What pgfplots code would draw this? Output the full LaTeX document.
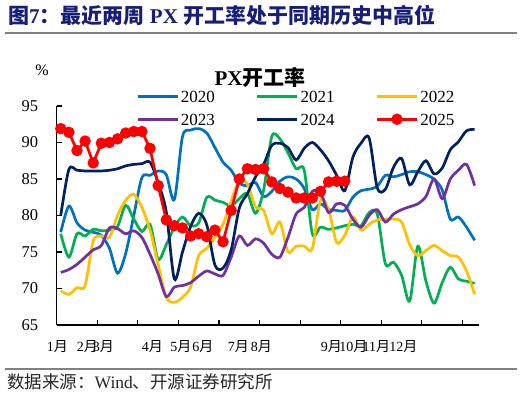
\documentclass[border=0pt]{standalone}
\usepackage{fontspec}
\setmainfont{Liberation Serif}
\newfontfamily\cjk{Noto Sans CJK SC}
\usepackage{pgfplots}
\usepackage{pgfplotstable}
\pgfplotsset{compat=1.18}

\definecolor{c2020}{RGB}{0,112,192}
\definecolor{c2021}{RGB}{0,176,80}
\definecolor{c2022}{RGB}{255,192,0}
\definecolor{c2023}{RGB}{112,48,160}
\definecolor{c2024}{RGB}{0,32,96}
\definecolor{c2025}{RGB}{255,0,0}
\definecolor{hdr}{RGB}{22,30,120}
\definecolor{rule}{RGB}{128,128,128}

\newcommand\yue{{\cjk 月}}

% weekly PX operating rate, %, by year
\pgfplotstableread{
w  y2020 y2021 y2022 y2023 y2024
0  77.7  77.5  69.7  72.2  80.0
1  81.3  74.3  69.2  72.6  86.3
2  79.0  77.5  70.1  73.3  86.2
3  78.0  77.2  70.4  74.3  86.1
4  77.7  78.1  76.5  75.3  86.1
5  77.3  77.9  77.2  75.9  86.1
6  75.5  78.0  77.0  78.3  86.2
7  72.1  78.5  80.0  78.2  86.4
8  74.8  81.4  82.1  77.5  86.8
9  80.0  79.5  82.9  77.9  87.0
10 85.2  77.8  81.1  77.0  87.1
11 85.5  78.8  78.0  74.7  87.3
12 86.1  74.0  73.3  72.0  84.5
13 85.6  76.0  68.8  68.9  80.5
14 82.2  78.4  68.1  70.2  71.3
15 90.8  79.8  68.8  70.4  75.0
16 91.7  78.6  70.2  70.8  78.5
17 91.9  79.0  74.5  71.7  80.3
18 91.3  82.5  75.5  72.4  78.7
19 89.3  82.1  77.0  72.0  73.2
20 87.3  81.8  78.8  71.8  72.8
21 86.2  81.3  82.0  74.3  75.3
22 84.4  82.3  84.8  77.2  81.0
23 84.1  83.0  84.3  75.9  83.0
24 84.5  80.3  81.2  76.8  85.3
25 82.6  83.5  80.7  76.2  87.0
26 83.3  90.8  77.5  74.7  89.6
27 84.7  90.5  79.1  74.3  89.9
28 85.3  88.6  75.0  77.0  89.3
29 85.0  86.4  75.8  80.2  87.6
30 83.7  86.2  75.8  81.1  89.2
31 80.8  77.5  75.5  83.3  90.0
32 81.6  78.4  82.1  83.2  89.0
33 80.8  78.1  80.8  80.4  87.5
34 80.7  78.3  76.3  81.6  85.5
35 80.7  78.6  77.3  81.4  83.4
36 82.5  78.8  79.8  79.5  88.0
37 83.4  78.6  78.0  78.4  89.9
38 83.6  80.4  78.8  80.0  90.6
39 84.0  80.2  79.4  80.8  83.8
40 85.5  73.4  79.5  79.1  83.6
41 85.3  73.6  79.5  80.2  86.6
42 85.6  71.8  79.1  80.8  87.8
43 86.0  68.3  76.0  81.2  84.2
44 86.0  75.8  74.5  81.6  86.0
45 85.6  71.0  75.2  82.6  87.5
46 85.0  68.0  75.9  85.0  85.7
47 83.5  70.8  75.2  82.3  86.5
48 79.5  72.9  74.5  85.0  89.0
49 79.8  71.3  74.3  86.2  90.1
50 78.4  71.0  72.4  87.0  91.6
51 76.6  70.7  69.2  84.1  91.8
}\hist

\pgfplotstableread{
w  v
0  91.9
1  91.4
2  88.9
3  90.2
4  87.2
5  89.9
6  90.0
7  90.5
8  91.3
9  91.5
10 91.5
11 89.2
12 84.1
13 79.4
14 78.6
15 78.3
16 77.2
17 77.5
18 77.1
19 78.0
20 76.4
21 80.7
22 85.0
23 86.4
24 86.3
25 86.4
26 84.6
27 83.7
28 83.2
29 82.4
30 82.4
31 82.4
32 83.3
33 84.6
34 84.7
35 84.7
}\cur

\begin{document}
\begin{tikzpicture}
\path[use as bounding box] (-56.7pt,-83pt) rectangle (465.3pt,325pt);
\begin{axis}[
  scale only axis, width=422pt, height=219pt,
  xmin=-0.5, xmax=51.5, ymin=65, ymax=95,
  clip=false,
  axis lines*=left,
  axis line style={line width=1.3pt},
  tick align=inside,
  major tick length=5pt,
  tick style={black, line width=1.2pt},
  ytick={65,70,75,80,85,90,95},
  yticklabel style={font=\fontsize{16.5}{16.5}\selectfont, xshift=-15pt},
  /pgf/number format/assume math mode=true,
  xtick={4.5,9.5,14.5,19.5,24.5,29.5,34.5,39.5,44.5,49.5},
  xticklabels={},
  extra x ticks={-0.43,3.27,5.24,11.28,14.8,17.5,21.88,24.72,33.35,36.07,38.9,42.23},
  extra x tick labels={1\yue,2\yue,3\yue,4\yue,5\yue,6\yue,7\yue,8\yue,9\yue,10\yue,11\yue,12\yue},
  extra x tick style={major tick length=0pt,
    xticklabel style={font=\fontsize{14}{14}\selectfont, anchor=center, yshift=-22pt}},
  legend columns=3,
  legend style={draw=none, fill=none, inner sep=0pt,
    at={(axis description cs:0.188,1.082)}, anchor=north west,
    font=\fontsize{17}{17}\selectfont,
    nodes={inner sep=2pt, text height=12pt, text depth=0pt},
    row sep=7pt,
    /tikz/every even column/.append style={column sep=39pt}},
  legend cell align=left,
  legend image code/.code={
    \draw[#1,mark=none] (0pt,0pt) -- (40pt,0pt);
    \draw[#1,only marks] plot coordinates {(20pt,0pt)};
  },
  every axis plot/.append style={line width=2.7pt},
]
\addplot[c2020, smooth] table[x=w, y=y2020] {\hist};
\addlegendentry{2020}
\addplot[c2021, smooth] table[x=w, y=y2021] {\hist};
\addlegendentry{2021}
\addplot[c2022, smooth] table[x=w, y=y2022] {\hist};
\addlegendentry{2022}
\addplot[c2023, smooth] table[x=w, y=y2023] {\hist};
\addlegendentry{2023}
\addplot[c2024, smooth] table[x=w, y=y2024] {\hist};
\addlegendentry{2024}
\addplot[c2025, mark=*, mark size=4.3pt] table[x=w, y=v] {\cur};
\addlegendentry{2025}
\end{axis}

% header and footer
\node[anchor=west, text=hdr, font=\fontsize{21}{21}\selectfont\bfseries, inner sep=0pt]
  at (-48.7pt,309.5pt) {{\cjk 图}7{\cjk ：最近两周} PX {\cjk 开工率处于同期历史中高位}};
\draw[rule, line width=1.5pt] (-51.7pt,292pt) -- (460.3pt,292pt);
\node[font=\fontsize{21}{21}\selectfont\bfseries, inner sep=0pt]
  at (203.3pt,247pt) {PX{\cjk 开工率}};
\node[font=\fontsize{16}{16}\selectfont, inner sep=0pt] at (-14.7pt,255pt) {\%};
\draw[rule, line width=1.5pt] (-51.7pt,-44pt) -- (460.3pt,-44pt);
\node[anchor=west, font=\fontsize{17.5}{17.5}\selectfont, text=black!85, inner sep=0pt]
  at (-49.7pt,-57pt) {{\cjk 数据来源：}Wind{\cjk 、开源证券研究所}};
\end{tikzpicture}
\end{document}
